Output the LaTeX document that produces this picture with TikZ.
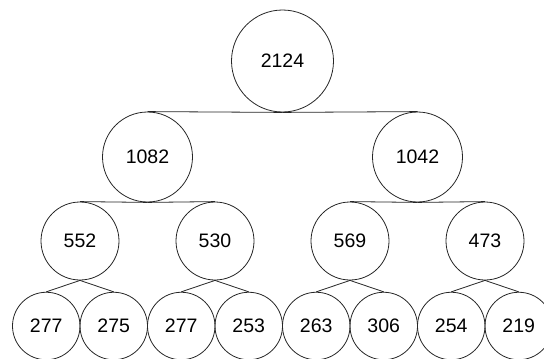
\documentclass[tikz,border=0pt]{standalone}
\usepackage{fontspec}
\setmainfont{Liberation Sans}
\begin{document}
\begin{tikzpicture}[x=1pt, y=-1pt, line width=0.8pt, draw=black!85]
        % Tree of summed counts
        \tikzset{sum/.style={draw=black!85, circle, inner sep=0pt, font=\fontsize{19.5}{23}\selectfont}}
        \clip (0,0) rectangle (544,359);
        \node[sum, minimum size=102pt] (root) at (282.5,61) {2124};
        \foreach \x/\name/\label in {147.5/a/1082, 417.5/b/1042} {
            \node[sum, minimum size=90pt] (\name) at (\x,157) {\label};
            \draw (root.south) -- (\name.north);
        }
        \foreach \x/\name/\parent/\label in {80/aa/a/552, 215/ab/a/530, 350/ba/b/569, 485/bb/b/473} {
            \node[sum, minimum size=78pt] (\name) at (\x,241) {\label};
            \draw (\parent.south) -- (\name.north);
        }
        \foreach \i/\parent/\label in {0/aa/277, 1/aa/275, 2/ab/277, 3/ab/253, 4/ba/263, 5/ba/306, 6/bb/254, 7/bb/219} {
            \node[sum, minimum size=67.5pt] (leaf\i) at ({46.25+67.5*\i},326) {\label};
            \draw (\parent.south) -- (leaf\i.north);
        }
    \end{tikzpicture}
\end{document}
